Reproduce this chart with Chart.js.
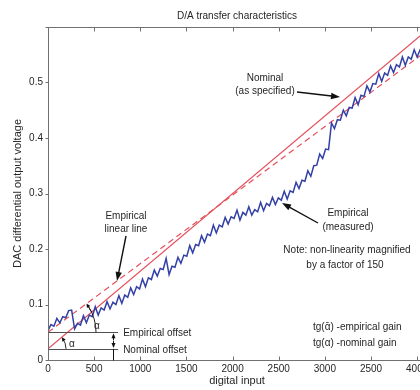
<!DOCTYPE html>
<html><head><meta charset="utf-8">
<script src="https://cdn.jsdelivr.net/npm/chart.js@4.4.1/dist/chart.umd.min.js"></script>
<style>
html,body{margin:0;padding:0;overflow:hidden;background:#fff;width:420px;height:390px}
#wrap{position:absolute;left:0;top:0;width:440px;height:390px}
</style>
</head><body><div id="wrap"><canvas id="c" width="440" height="390"></canvas></div>
<script>
// ---- data ----
const measuredCodes = [0,32,64,96,128,160,192,224,256,288,320,352,384,416,448,480,512,544,576,608,640,672,704,736,768,800,832,864,896,928,960,992,1024,1056,1088,1120,1152,1184,1216,1248,1280,1312,1344,1376,1408,1440,1472,1504,1536,1568,1600,1632,1664,1696,1728,1760,1792,1824,1856,1888,1920,1952,1984,2016,2048,2080,2112,2144,2176,2208,2240,2272,2304,2336,2368,2400,2432,2464,2496,2528,2560,2592,2624,2656,2688,2720,2752,2784,2816,2848,2880,2912,2944,2976,3008,3040,3072,3104,3136,3168,3200,3232,3264,3296,3328,3360,3392,3424,3456,3488,3520,3552,3584,3616,3648,3680,3712,3744,3776,3808,3840,3872,3904,3936,3968,4000,4032,4064,4096];
const measuredVolts = [.053,.064,.061,.075,.067,.078,.076,.089,
.090,.056,.066,.063,.080,.067,.081,.078,
.096,.081,.094,.090,.105,.092,.104,.100,
.116,.102,.117,.113,.130,.118,.132,.128,
.146,.132,.148,.145,.162,.151,.165,.163,
.183,.154,.169,.167,.185,.174,.189,.187,
.206,.193,.208,.206,.224,.212,.227,.224,
.243,.229,.243,.240,.257,.245,.258,.255,
.270,.252,.266,.261,.276,.261,.271,.267,
.284,.269,.282,.278,.293,.280,.292,.288,
.304,.290,.305,.302,.320,.309,.324,.322,
.341,.331,.350,.351,.371,.363,.380,.379,
.427,.417,.433,.432,.450,.440,.455,.454,
.473,.460,.477,.475,.494,.483,.498,.497,
.516,.502,.517,.513,.530,.518,.532,.528,
.546,.531,.546,.542,.559,.546,.559,.556,
.573];
const nominalCodes = [0, 4096];
const nominalVolts = [0.02, 0.593];
const empiricalCodes = [0, 4096];
const empiricalVolts = [0.05, 0.556];
const offsetLevels = [0.05, 0.02];          // empirical offset, nominal offset
const offsetLabels = ['Empirical offset', 'Nominal offset'];
const offsetLineEnd = 760;                  // code where offset guide lines stop
const xTickValues = [0,500,1000,1500,2000,2500,3000,3500,4000];
const xTickLabels = ['0','500','1000','1500','2000','2500','3000','2500','4000'];
const yTickValues = [0,0.1,0.2,0.3,0.4,0.5,0.6];
const yTickLabels = ['0','0.1','0.2','0.3','0.4','0.5',''];
const xRange = [0, 4096];
const yRange = [0, 0.6];

const FONT = '"Liberation Sans", Arial, Helvetica, "DejaVu Sans", sans-serif';
const TXT = '#262626';

function pts(xs, ys){ return xs.map((x,i)=>({x:x, y:ys[i]})); }

function arrow(ctx, x1, y1, x2, y2, head, w){
  head = head || 8; w = w || 3;
  const a = Math.atan2(y2-y1, x2-x1);
  ctx.beginPath(); ctx.moveTo(x1,y1);
  ctx.lineTo(x2 - Math.cos(a)*head*0.7, y2 - Math.sin(a)*head*0.7); ctx.stroke();
  ctx.beginPath(); ctx.moveTo(x2,y2);
  ctx.lineTo(x2 - head*Math.cos(a) + w*Math.sin(a), y2 - head*Math.sin(a) - w*Math.cos(a));
  ctx.lineTo(x2 - head*Math.cos(a) - w*Math.sin(a), y2 - head*Math.sin(a) + w*Math.cos(a));
  ctx.closePath(); ctx.fill();
}

const decor = {
  id: 'decor',
  afterDraw(chart){
    const ctx = chart.ctx, xs = chart.scales.x, ys = chart.scales.y;
    const {left, right, top, bottom} = chart.chartArea;
    const X = v => xs.getPixelForValue(v), Y = v => ys.getPixelForValue(v);
    ctx.save();
    // box
    ctx.strokeStyle = '#707070'; ctx.lineWidth = 1;
    const L = Math.round(left)+0.5, R = Math.round(right)-0.5, T = Math.round(top)+0.5, B = Math.round(bottom)+0.5;
    ctx.strokeRect(L, T, R-L, B-T);
    // ticks
    ctx.beginPath();
    xTickValues.forEach(v => { const p = Math.round(X(v))+0.5; ctx.moveTo(p,B); ctx.lineTo(p,B-4); ctx.moveTo(p,T); ctx.lineTo(p,T+4); });
    yTickValues.forEach(v => { const p = Math.round(Y(v))+0.5; ctx.moveTo(L,p); ctx.lineTo(L-3,p); ctx.moveTo(R,p); ctx.lineTo(R-4,p); });
    ctx.stroke();

    // title
    ctx.fillStyle = TXT; ctx.font = '10px ' + FONT; ctx.textAlign = 'center'; ctx.textBaseline = 'middle';
    ctx.fillText('D/A transfer characteristics', (left+right)/2, 16);

    // offset guide lines
    ctx.strokeStyle = '#505050'; ctx.lineWidth = 1;
    offsetLevels.forEach(v => { const p = Math.round(Y(v))+0.5; ctx.beginPath(); ctx.moveTo(L,p); ctx.lineTo(X(offsetLineEnd),p); ctx.stroke(); });
    ctx.textAlign = 'left';
    offsetLabels.forEach((t,i) => ctx.fillText(t, X(offsetLineEnd)+5, Y(offsetLevels[i])+1));
    // double arrow between offsets
    ctx.fillStyle = '#111'; ctx.strokeStyle = '#111'; ctx.lineWidth = 1;
    const ax = Math.round(X(offsetLineEnd) - 5) + 0.5;
    arrow(ctx, ax, Y(offsetLevels[0])+8, ax, Y(offsetLevels[0])+1, 5, 2);
    arrow(ctx, ax, Y(offsetLevels[1])-8, ax, Y(offsetLevels[1])-1, 5, 2);
    ctx.beginPath(); ctx.moveTo(ax, Y(offsetLevels[1])); ctx.lineTo(ax, B); ctx.stroke();

    // angle arcs
    const angN = Math.atan2(Y(nominalVolts[1])-Y(nominalVolts[0]), X(nominalCodes[1])-X(nominalCodes[0]));
    const angE = Math.atan2(Y(empiricalVolts[1])-Y(empiricalVolts[0]), X(empiricalCodes[1])-X(empiricalCodes[0]));
    ctx.lineWidth = 0.9;
    const arcs = [[X(0), Y(nominalVolts[0]), 18, angN], [X(0), Y(empiricalVolts[0]), 48, angE]];
    arcs.forEach(([cx,cy,r,ang]) => {
      ctx.beginPath(); ctx.arc(cx, cy, r, ang+0.08, 0); ctx.stroke();
      const ex = cx + r*Math.cos(ang), ey = cy + r*Math.sin(ang);
      const sx = cx + r*Math.cos(ang+0.2), sy = cy + r*Math.sin(ang+0.2);
      arrow(ctx, sx, sy, ex, ey, 4, 2);
    });
    ctx.fillStyle = TXT; ctx.font = '10px ' + FONT; ctx.textAlign = 'left';
    ctx.fillText('\u03b1', 69, 344);
    ctx.fillText('\u03b1', 94, 326);

    // text annotations
    ctx.textAlign = 'center';
    ctx.fillText('Nominal', 265, 78);
    ctx.fillText('(as specified)', 265, 91);
    ctx.fillText('Empirical', 126, 216);
    ctx.fillText('linear line', 126, 229);
    ctx.fillText('Empirical', 348, 213);
    ctx.fillText('(measured)', 348, 227);
    ctx.fillText('Note: non-linearity magnified', 347, 250);
    ctx.fillText('by a factor of 150', 345, 265);
    ctx.textAlign = 'left';
    ctx.fillText('tg(\u1fb1) -empirical gain', 313, 327);
    ctx.fillText('tg(\u03b1) -nominal gain', 313, 343);

    // arrows
    ctx.fillStyle = '#111'; ctx.strokeStyle = '#111'; ctx.lineWidth = 1.4;
    arrow(ctx, 297, 92, 340, 97, 9, 3.2);
    arrow(ctx, 126, 236, 117, 281, 9, 3.2);
    arrow(ctx, 318, 223, 282, 203, 9, 3.2);
    ctx.restore();
  }
};

new Chart(document.getElementById('c'), {
  type: 'line',
  data: {
    datasets: [
      { label: 'Empirical (measured)', data: pts(measuredCodes, measuredVolts), borderColor: '#3340a6', borderWidth: 1.5, pointRadius: 0, tension: 0 },
      { label: 'Nominal', data: pts(nominalCodes, nominalVolts), borderColor: '#e4505c', borderWidth: 1.2, pointRadius: 0 },
      { label: 'Empirical linear line', data: pts(empiricalCodes, empiricalVolts), borderColor: '#e4505c', borderWidth: 1.2, borderDash: [6,4], pointRadius: 0 }
    ]
  },
  options: {
    responsive: false, animation: false, devicePixelRatio: 1,
    layout: { padding: { left: 0, right: 14, top: 27, bottom: 0 } },
    plugins: { legend: { display: false }, title: { display: false }, tooltip: { enabled: false } },
    scales: {
      x: {
        type: 'linear', min: xRange[0], max: xRange[1],
        grid: { display: false, drawTicks: false }, border: { display: false },
        afterBuildTicks: s => { s.ticks = xTickValues.map(v => ({ value: v })); },
        afterFit: s => { s.height = 30; },
        ticks: { autoSkip: false, maxRotation: 0, padding: 3, color: TXT, font: { family: FONT, size: 10 },
                 callback: (v, i) => xTickLabels[i] },
        title: { display: true, text: 'digital input', color: TXT, font: { family: FONT, size: 11 }, padding: { top: 0, bottom: 2 } }
      },
      y: {
        type: 'linear', min: yRange[0], max: yRange[1],
        grid: { display: false, drawTicks: false }, border: { display: false },
        afterBuildTicks: s => { s.ticks = yTickValues.map(v => ({ value: v })); },
        afterFit: s => { s.width = 48; },
        ticks: { autoSkip: false, padding: 5, color: TXT, font: { family: FONT, size: 10 },
                 callback: (v, i) => yTickLabels[i] },
        title: { display: true, text: 'DAC differential output voltage', color: TXT, font: { family: FONT, size: 11 }, padding: { top: 11, bottom: 0 } }
      }
    }
  },
  plugins: [decor]
});
</script>
</body></html>
